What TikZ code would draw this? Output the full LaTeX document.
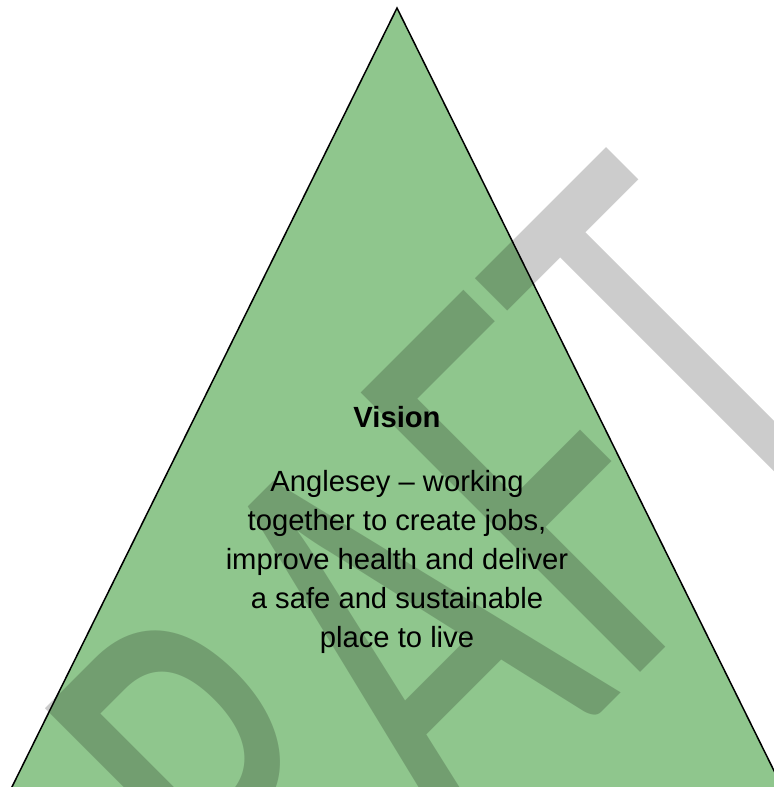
\documentclass[tikz,border=0pt]{standalone}
\usepackage{fontspec}
\setmainfont{Liberation Sans}
\newfontfamily\draftfont{Carlito}
\usetikzlibrary{calc}
\definecolor{visiongreen}{RGB}{143,198,141}

\begin{document}
\begin{tikzpicture}[x=0.5pt,y=-0.5pt,
    heading/.style={font=\fontsize{14.6}{17}\selectfont\bfseries, inner sep=0pt},
    bodytext/.style={font=\fontsize{14.6}{19.4}\selectfont, align=center, inner sep=0pt},
    watermark/.style={font=\draftfont\fontsize{200}{200}\selectfont, text=black, text opacity=0.2, inner sep=0pt, rotate=45, yscale=1.54, anchor=base}]
    \clip (0,0) rectangle (774,787);

    %%%% Triangle %%%%

    \coordinate (apex) at (397,8);
    \coordinate (baseL) at (8,795);
    \coordinate (baseR) at (786,795);
    \filldraw[fill=visiongreen, draw=black, line width=0.75pt] (apex) -- (baseR) -- (baseL) -- cycle;

    %%% Watermark %%%

    \node[watermark] (draft) at (510,803) {DRAFT};

    %%% Vision %%%

    \node[heading, anchor=base] (title) at (397,427) {Vision};
    % base of a multi-line node is the last line
    \node[bodytext, anchor=base] (vision) at ($(title.base)+(0,220)$)
    {Anglesey -- working\\ together to create jobs,\\ improve health and deliver\\ a safe and sustainable\\ place to live};

\end{tikzpicture}
\end{document}
